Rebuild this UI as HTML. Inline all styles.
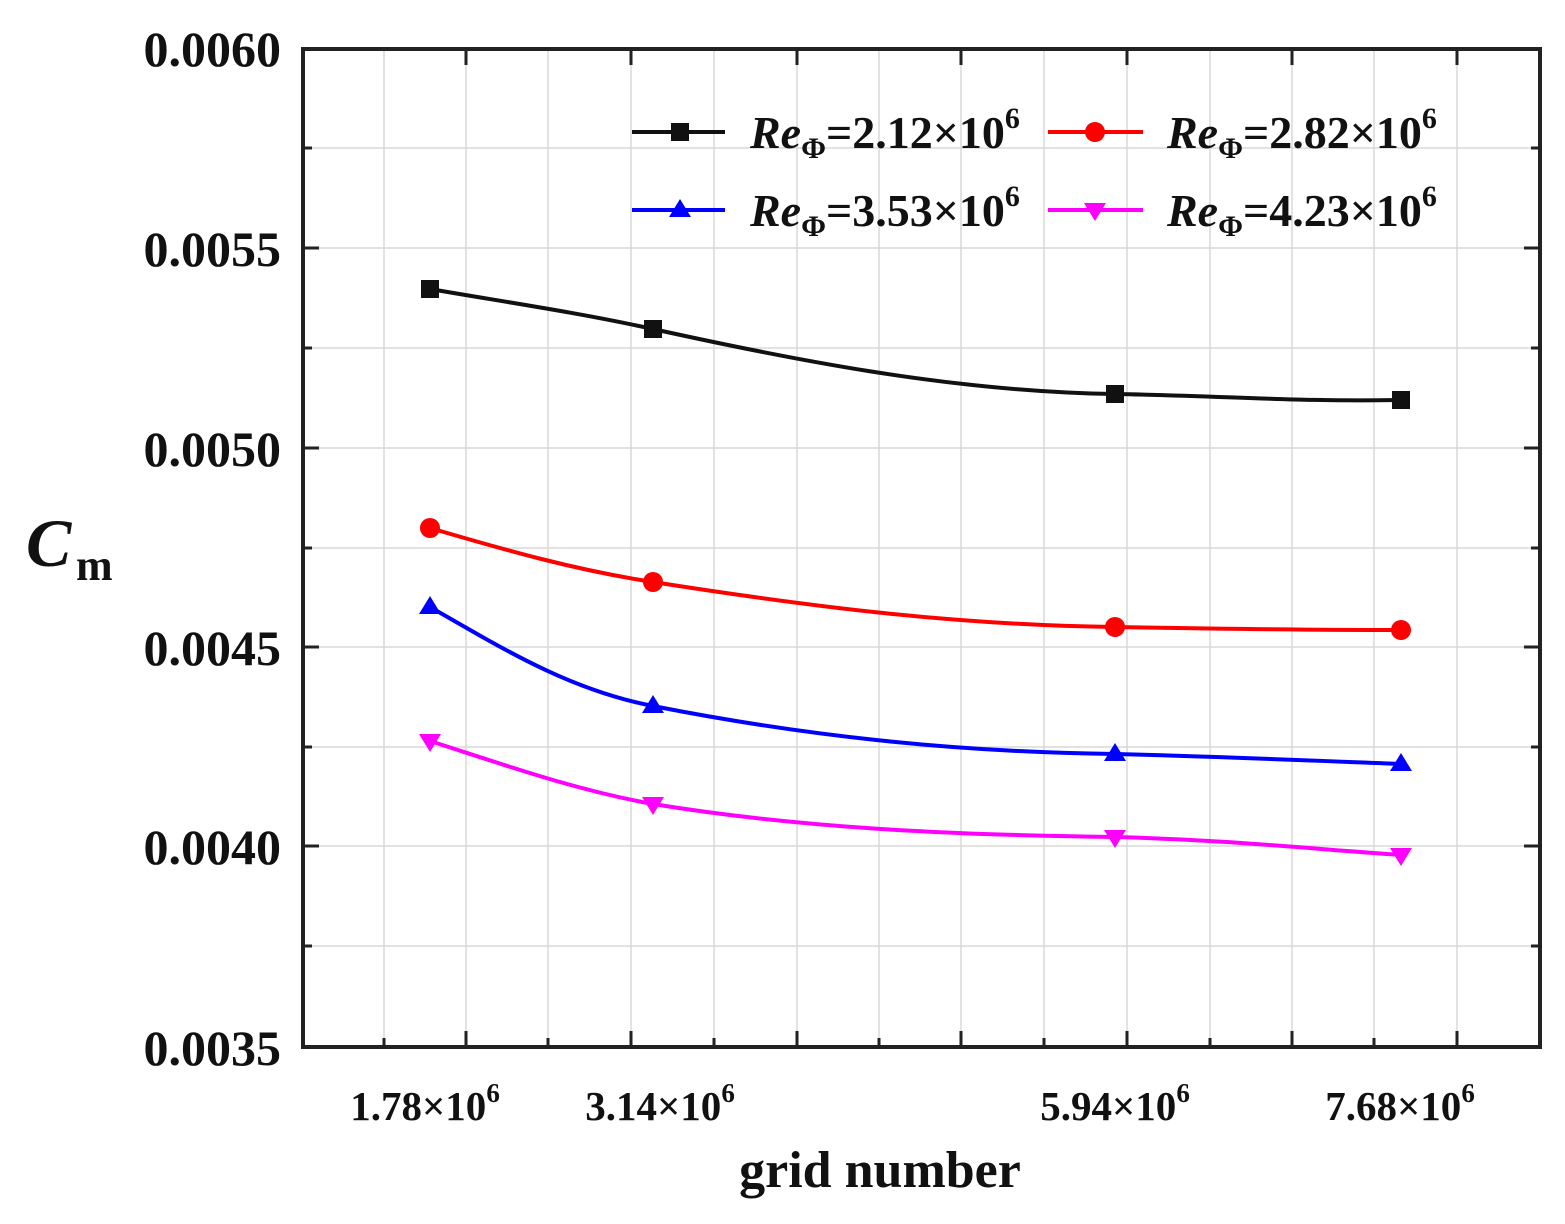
<!DOCTYPE html>
<html><head><meta charset="utf-8"><style>
html,body{margin:0;padding:0;background:#fff;}
svg{display:block;}
text{font-family:"Liberation Serif",serif;font-weight:bold;fill:#111;}
</style></head><body>
<svg width="1565" height="1224" viewBox="0 0 1565 1224" xmlns="http://www.w3.org/2000/svg">
<rect width="1565" height="1224" fill="#fff"/>
<g stroke="#d8d8d8" stroke-width="1.5">
<line x1="384" y1="49" x2="384" y2="1047"/><line x1="466" y1="49" x2="466" y2="1047"/>
<line x1="548" y1="49" x2="548" y2="1047"/><line x1="631" y1="49" x2="631" y2="1047"/>
<line x1="714" y1="49" x2="714" y2="1047"/><line x1="797" y1="49" x2="797" y2="1047"/>
<line x1="879" y1="49" x2="879" y2="1047"/><line x1="961" y1="49" x2="961" y2="1047"/>
<line x1="1044" y1="49" x2="1044" y2="1047"/><line x1="1127" y1="49" x2="1127" y2="1047"/>
<line x1="1210" y1="49" x2="1210" y2="1047"/><line x1="1292" y1="49" x2="1292" y2="1047"/>
<line x1="1374" y1="49" x2="1374" y2="1047"/><line x1="1457" y1="49" x2="1457" y2="1047"/>
<line x1="303" y1="148" x2="1540" y2="148"/><line x1="303" y1="248" x2="1540" y2="248"/>
<line x1="303" y1="348" x2="1540" y2="348"/><line x1="303" y1="448" x2="1540" y2="448"/>
<line x1="303" y1="548" x2="1540" y2="548"/><line x1="303" y1="647" x2="1540" y2="647"/>
<line x1="303" y1="747" x2="1540" y2="747"/><line x1="303" y1="846" x2="1540" y2="846"/>
<line x1="303" y1="946" x2="1540" y2="946"/>
</g>
<rect x="303" y="49" width="1237" height="998" fill="none" stroke="#222" stroke-width="4"/>
<g stroke="#222" stroke-width="3">
<path d="M466,1047v-16M631,1047v-16M797,1047v-16M961,1047v-16M1127,1047v-16M1292,1047v-16M1457,1047v-16"/>
<path d="M384,1047v-9M548,1047v-9M714,1047v-9M879,1047v-9M1044,1047v-9M1210,1047v-9M1374,1047v-9"/>
<path d="M466,49v16M631,49v16M797,49v16M961,49v16M1127,49v16M1292,49v16M1457,49v16"/>
<path d="M303,248h16M303,448h16M303,647h16M303,846h16M303,148h9M303,348h9M303,548h9M303,747h9M303,946h9"/>
<path d="M1540,248h-16M1540,448h-16M1540,647h-16M1540,846h-16M1540,148h-9M1540,348h-9M1540,548h-9M1540,747h-9M1540,946h-9"/>
</g>
<g font-size="50" text-anchor="end">
<text x="281" y="66">0.0060</text><text x="281" y="266">0.0055</text>
<text x="281" y="466">0.0050</text><text x="281" y="665">0.0045</text>
<text x="281" y="864">0.0040</text><text x="281" y="1065">0.0035</text>
</g>
<text x="26" y="566" font-size="68" font-style="italic">C</text>
<text x="76" y="580" font-size="44">m</text>
<g font-size="41" text-anchor="middle">
<text x="425" y="1120">1.78×10<tspan font-size="27" dy="-18">6</tspan></text>
<text x="660" y="1120">3.14×10<tspan font-size="27" dy="-18">6</tspan></text>
<text x="1115" y="1120">5.94×10<tspan font-size="27" dy="-18">6</tspan></text>
<text x="1400" y="1120">7.68×10<tspan font-size="27" dy="-18">6</tspan></text>
</g>
<text x="880" y="1187" font-size="52" text-anchor="middle">grid number</text>
<g fill="none" stroke-width="4">
<path stroke="#111" d="M430,289 C505,302 575,312 653,329 C780,357 950,392 1115,394 C1230,396 1300,402 1401,400"/>
<path stroke="#f00" d="M430,528 C505,550 575,570 653,582 C800,605 950,625 1115,627 C1230,629 1300,630 1401,630"/>
<path stroke="#00f" d="M430,607 C505,650 570,690 653,706 C800,735 950,752 1115,754 C1230,757 1300,760 1401,764"/>
<path stroke="#f0f" d="M430,741 C505,765 575,790 653,804 C800,828 950,835 1115,837 C1230,840 1300,848 1401,855"/>
</g>
<g fill="#111">
<rect x="421" y="280" width="18" height="18"/><rect x="644" y="320" width="18" height="18"/>
<rect x="1106" y="385" width="18" height="18"/><rect x="1392" y="391" width="18" height="18"/>
</g>
<g fill="#f00">
<circle cx="430" cy="528" r="10"/><circle cx="653" cy="582" r="10"/>
<circle cx="1115" cy="627" r="10"/><circle cx="1401" cy="630" r="10"/>
</g>
<g fill="#00f">
<path d="M430,596l11,18h-22z"/><path d="M653,695l11,18h-22z"/>
<path d="M1115,743l11,18h-22z"/><path d="M1401,753l11,18h-22z"/>
</g>
<g fill="#f0f">
<path d="M430,752l11,-18h-22z"/><path d="M653,815l11,-18h-22z"/>
<path d="M1115,848l11,-18h-22z"/><path d="M1401,866l11,-18h-22z"/>
</g>
<g stroke-width="4">
<line x1="632" y1="132" x2="725" y2="132" stroke="#111"/>
<line x1="1048" y1="132" x2="1143" y2="132" stroke="#f00"/>
<line x1="632" y1="210" x2="725" y2="210" stroke="#00f"/>
<line x1="1048" y1="210" x2="1143" y2="210" stroke="#f0f"/>
</g>
<rect x="671" y="123" width="18" height="18" fill="#111"/>
<circle cx="1095" cy="132" r="10" fill="#f00"/>
<path d="M680,199l11,18h-22z" fill="#00f"/>
<path d="M1095,221l11,-18h-22z" fill="#f0f"/>
<g font-size="46">
<text x="750" y="148"><tspan font-style="italic">Re</tspan><tspan font-size="30" dy="10">Φ</tspan><tspan dy="-10">=2.12×10</tspan><tspan font-size="30" dy="-20">6</tspan></text>
<text x="1167" y="148"><tspan font-style="italic">Re</tspan><tspan font-size="30" dy="10">Φ</tspan><tspan dy="-10">=2.82×10</tspan><tspan font-size="30" dy="-20">6</tspan></text>
<text x="750" y="226"><tspan font-style="italic">Re</tspan><tspan font-size="30" dy="10">Φ</tspan><tspan dy="-10">=3.53×10</tspan><tspan font-size="30" dy="-20">6</tspan></text>
<text x="1167" y="226"><tspan font-style="italic">Re</tspan><tspan font-size="30" dy="10">Φ</tspan><tspan dy="-10">=4.23×10</tspan><tspan font-size="30" dy="-20">6</tspan></text>
</g>
</svg>
</body></html>
